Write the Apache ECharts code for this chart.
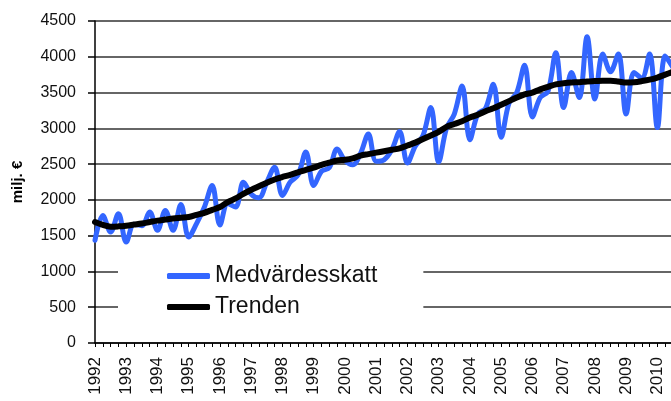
<!DOCTYPE html>
<html>
<head>
<meta charset="utf-8">
<script src="https://cdn.jsdelivr.net/npm/echarts@6/dist/echarts.min.js"></script>
<style>
html,body{margin:0;padding:0;background:#fff;}
#chart{width:671px;height:401px;}
</style>
</head>
<body>
<div id="chart"></div>
<script>
// Quarterly categories 1992Q1 .. 2010Q3
const years = ["1992","1993","1994","1995","1996","1997","1998","1999","2000","2001","2002","2003","2004","2005","2006","2007","2008","2009","2010"];
const quarters = ["Q1","Q2","Q3","Q4"];
const categories = [];
years.forEach(function (y) { quarters.forEach(function (q) { categories.push(y + " " + q); }); });
categories.length = 75;

const seriesNames = ["Medvärdesskatt", "Trenden"];

const medvardesskatt = [
  1435, 1783, 1551, 1807,
  1411, 1660, 1640, 1829,
  1574, 1853, 1574, 1936,
  1481, 1667, 1899, 2200,
  1650, 1950, 1900, 2247,
  2080, 2030, 2250, 2456,
  2062, 2250, 2350, 2670,
  2200, 2400, 2450, 2712,
  2550, 2490, 2650, 2920,
  2540, 2560, 2700, 2955,
  2515, 2750, 2900, 3292,
  2530, 3000, 3200, 3590,
  2840, 3200, 3280, 3615,
  2875, 3350, 3500, 3880,
  3160, 3430, 3520, 4055,
  3290, 3780, 3430, 4280,
  3410, 4040, 3790, 4040,
  3200, 3780, 3700, 4040,
  3010, 4010, 3850
];

const trenden = [
  1690, 1650, 1625, 1630,
  1640, 1655, 1670, 1690,
  1710, 1725, 1740, 1750,
  1760, 1790, 1820, 1860,
  1900, 1970, 2020, 2085,
  2140, 2190, 2240, 2285,
  2320, 2350, 2385, 2420,
  2450, 2490, 2520, 2550,
  2560, 2580, 2620, 2640,
  2660, 2680, 2700, 2720,
  2760, 2800, 2850, 2900,
  2950, 3020, 3060, 3100,
  3150, 3190, 3240, 3280,
  3330, 3380, 3430, 3475,
  3500, 3545, 3580, 3615,
  3630, 3640, 3645, 3655,
  3660, 3665, 3665, 3655,
  3640, 3645, 3660, 3680,
  3710, 3750, 3790
];

const yTicks = { min: 0, max: 4500, interval: 500 };
const yAxisName = "milj. €";

const FONT = "Arial, 'Liberation Sans', sans-serif";

const chart = echarts.init(document.getElementById('chart'), null, { renderer: 'canvas' });
chart.setOption({
  backgroundColor: '#ffffff',
  animation: false,
  grid: { left: 95, right: -2, top: 21, bottom: 58, containLabel: false, outerBoundsMode: 'none' },
  legend: {
    orient: 'vertical',
    left: 118,
    top: 258,
    padding: [6, 46, 6, 49],
    backgroundColor: '#ffffff',
    itemWidth: 43,
    itemHeight: 6,
    itemGap: 7,
    icon: 'roundRect',
    z: 10,
    textStyle: { fontFamily: FONT, fontSize: 23, color: '#111', lineHeight: 24 },
    data: [
      { name: seriesNames[0], itemStyle: { color: '#3366ff' } },
      { name: seriesNames[1], itemStyle: { color: '#000000' } }
    ]
  },
  xAxis: {
    type: 'category',
    data: categories,
    boundaryGap: false,
    axisLine: { show: true, lineStyle: { color: '#000', width: 1.5 } },
    axisTick: { show: true, interval: 0, length: 4, lineStyle: { color: '#000' } },
    axisLabel: {
      interval: function (idx) { return idx % 4 === 0; },
      formatter: function (v) { return v.slice(0, 4); },
      rotate: 90,
      margin: 14,
      fontFamily: FONT,
      fontSize: 17,
      color: '#111'
    },
    splitLine: { show: false }
  },
  yAxis: {
    type: 'value',
    min: yTicks.min,
    max: yTicks.max,
    interval: yTicks.interval,
    name: yAxisName,
    nameLocation: 'middle',
    nameGap: 70,
    nameRotate: 90,
    nameTextStyle: { fontFamily: FONT, fontSize: 15, fontWeight: 'bold', color: '#000' },
    axisLine: { show: true, lineStyle: { color: '#000', width: 1.5 } },
    axisTick: { show: true, length: 7, lineStyle: { color: '#000', width: 1.5 } },
    axisLabel: {
      margin: 19, fontFamily: FONT, fontSize: 16, color: '#111',
      formatter: function (v) { return String(v); }
    },
    splitLine: { show: true, lineStyle: { color: '#333', width: 1.5 } }
  },
  series: [
    {
      name: seriesNames[0],
      type: 'line',
      data: medvardesskatt,
      smooth: 0.35,
      symbol: 'none',
      itemStyle: { color: '#3366ff' },
      lineStyle: { color: '#3366ff', width: 5, cap: 'round', join: 'round' },
      z: 2
    },
    {
      name: seriesNames[1],
      type: 'line',
      data: trenden,
      smooth: 0.35,
      symbol: 'none',
      itemStyle: { color: '#000000' },
      lineStyle: { color: '#000000', width: 6, cap: 'round', join: 'round' },
      z: 3
    }
  ]
});
</script>
</body>
</html>
